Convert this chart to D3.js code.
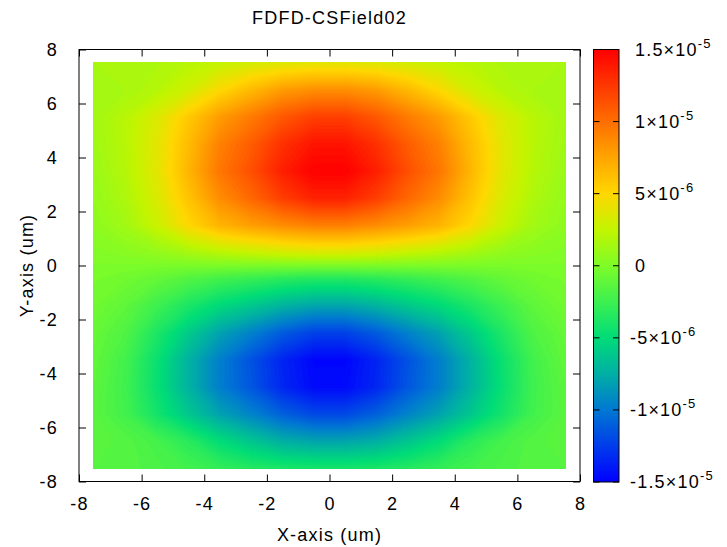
<!DOCTYPE html>
<html lang="en">
<head>
<meta charset="utf-8">
<style>
  body { margin: 0; background: #fff; }
  svg text { font-family: "Liberation Sans", Arial, sans-serif; fill: #000; letter-spacing: 1.2px; }
  .tick line { stroke: #000; }
</style>
</head>
<body>
<svg width="727" height="547"></svg>
<script src="https://d3js.org/d3.v7.min.js"></script>
<script>
// grid nodes (um) and field values in units of 1e-6, rows from top (y=7.5) to bottom (y=-7.5)
var valueUnit = 1e-6;
var xNodes = [-7.5, -6.5, -5.5, -4.5, -3.5, -2.5, -1.5, -0.5, 0.5, 1.5, 2.5, 3.5, 4.5, 5.5, 6.5, 7.5];
var yNodes = [7.5, 6.5, 5.5, 4.5, 3.5, 2.5, 1.5, 0.5, -0.5, -1.5, -2.5, -3.5, -4.5, -5.5, -6.5, -7.5];
var field = [
  [1.5, 1.6, 1.7, 2.1, 2.6, 3.2, 3.6, 3.8, 3.8, 3.6, 3.2, 2.6, 2.1, 1.7, 1.6, 1.5],
  [1.3, 1.5, 2.0, 3.1, 4.9, 6.5, 7.9, 8.5, 8.5, 7.9, 6.5, 4.9, 3.1, 2.0, 1.5, 1.3],
  [1.3, 2.1, 3.5, 5.7, 7.9, 9.4, 11.0, 12.1, 12.1, 11.0, 9.4, 7.9, 5.7, 3.5, 2.1, 1.3],
  [1.2, 2.1, 3.8, 6.4, 9.1, 10.8, 12.8, 14.1, 14.1, 12.8, 10.8, 9.1, 6.4, 3.8, 2.1, 1.2],
  [1.0, 2.0, 3.8, 6.7, 9.6, 11.4, 13.6, 15.0, 15.0, 13.6, 11.4, 9.6, 6.7, 3.8, 2.0, 1.0],
  [0.8, 1.7, 3.4, 6.0, 8.6, 10.3, 12.2, 13.5, 13.5, 12.2, 10.3, 8.6, 6.0, 3.4, 1.7, 0.8],
  [0.6, 1.3, 2.8, 5.0, 6.8, 7.8, 8.6, 9.2, 9.2, 8.6, 7.8, 6.8, 5.0, 2.8, 1.3, 0.6],
  [0.15, 0.4, 0.8, 1.5, 2.2, 2.7, 3.2, 3.5, 3.5, 3.2, 2.7, 2.2, 1.5, 0.8, 0.4, 0.15],
  [-0.2, -0.5, -1.0, -1.7, -2.3, -2.8, -3.3, -3.6, -3.6, -3.3, -2.8, -2.3, -1.7, -1.0, -0.5, -0.2],
  [-0.5, -1.2, -2.5, -3.9, -5.2, -6.2, -7.3, -8.0, -8.0, -7.3, -6.2, -5.2, -3.9, -2.5, -1.2, -0.5],
  [-0.9, -1.8, -3.8, -6.0, -8.1, -9.6, -11.2, -12.3, -12.3, -11.2, -9.6, -8.1, -6.0, -3.8, -1.8, -0.9],
  [-1.1, -2.3, -4.6, -7.3, -9.7, -11.6, -13.5, -14.8, -14.8, -13.5, -11.6, -9.7, -7.3, -4.6, -2.3, -1.1],
  [-1.3, -2.4, -4.7, -7.3, -9.7, -11.4, -13.4, -14.6, -14.6, -13.4, -11.4, -9.7, -7.3, -4.7, -2.4, -1.3],
  [-1.4, -2.3, -4.2, -6.2, -8.1, -9.5, -11.0, -12.0, -12.0, -11.0, -9.5, -8.1, -6.2, -4.2, -2.3, -1.4],
  [-1.35, -1.6, -2.2, -3.3, -5.0, -6.3, -7.5, -8.0, -8.0, -7.5, -6.3, -5.0, -3.3, -2.2, -1.6, -1.35],
  [-1.5, -1.6, -1.9, -2.3, -2.9, -3.5, -3.9, -4.1, -4.1, -3.9, -3.5, -2.9, -2.3, -1.9, -1.6, -1.5]
];
var xTicks = [-8, -6, -4, -2, 0, 2, 4, 6, 8];
var yTicks = [-8, -6, -4, -2, 0, 2, 4, 6, 8];
var cbTicks = [-1.5e-5, -1e-5, -5e-6, 0, 5e-6, 1e-5, 1.5e-5];
var cbMantissa = ["-1.5", "-1", "-5", "0", "5", "1", "1.5"];
var cbExponent = ["-5", "-5", "-6", "", "-6", "-5", "-5"];
var paletteValues = [-15, -12.5, -10, -7.5, -5, -2.5, 0, 2.5, 5, 7.5, 10, 12.5, 15];
var paletteColors = ["#0000ff", "#003ceb", "#0078d2", "#00afa5", "#00dc78", "#3cf050", "#7dfc28",
                     "#c3f500", "#ffd700", "#ffa500", "#ff6e00", "#ff3700", "#ff0000"];

var svg = d3.select("svg");
var plotLeft = 79, plotRight = 580, plotTop = 49.5, plotBottom = 481.5;
var fontSize = "18px";

var x = d3.scaleLinear().domain([-8, 8]).range([plotLeft, plotRight]);
var y = d3.scaleLinear().domain([-8, 8]).range([plotBottom, plotTop]);
var color = d3.scaleLinear()
  .domain(paletteValues.map(function(v) { return v * valueUnit; }))
  .range(paletteColors)
  .interpolate(d3.interpolateRgb);

// heat map as stacked filled contours of the grid
var nx = xNodes.length, ny = yNodes.length;
var values = [];
field.forEach(function(row) { row.forEach(function(v) { values.push(v); }); });
var step = 0.25;
var thresholds = d3.range(-16, 15.6, step);
var contours = d3.contours().size([nx, ny]).thresholds(thresholds)(values);

// grid coordinate c -> node xNodes[0] at c = 0.5
var projection = d3.geoTransform({
  point: function(cx, cy) {
    this.stream.point(x(xNodes[0] - 0.5 + cx), y(yNodes[0] + 0.5 - cy));
  }
});
var path = d3.geoPath(projection);

var heatExtentX = [-7.55, 7.55], heatExtentY = [-7.53, 7.53];
svg.append("clipPath").attr("id", "heatClip")
  .append("rect")
  .attr("x", x(heatExtentX[0]))
  .attr("y", y(heatExtentY[1]))
  .attr("width", x(heatExtentX[1]) - x(heatExtentX[0]))
  .attr("height", y(heatExtentY[0]) - y(heatExtentY[1]));

svg.append("g").attr("clip-path", "url(#heatClip)")
  .selectAll("path")
  .data(contours)
  .enter().append("path")
  .attr("d", path)
  .attr("fill", function(d) { return color((d.value + step / 2) * valueUnit); })
  .attr("stroke", function(d) { return color((d.value + step / 2) * valueUnit); })
  .attr("stroke-width", 0.3);

// axes with inward ticks on all sides
var tickLen = 7;
var plain = function(d) { return String(d); };
svg.append("g").attr("transform", "translate(0," + plotBottom + ")")
  .call(d3.axisBottom(x).tickValues(xTicks).tickSize(-tickLen).tickPadding(16).tickFormat(plain));
svg.append("g").attr("transform", "translate(0," + plotTop + ")")
  .call(d3.axisTop(x).tickValues(xTicks).tickSize(-tickLen).tickFormat(""));
svg.append("g").attr("transform", "translate(" + plotLeft + ",0)")
  .call(d3.axisLeft(y).tickValues(yTicks).tickSize(-tickLen).tickPadding(21).tickFormat(plain));
svg.append("g").attr("transform", "translate(" + plotRight + ",0)")
  .call(d3.axisRight(y).tickValues(yTicks).tickSize(-tickLen).tickFormat(""));
svg.selectAll(".domain").remove();
svg.selectAll(".tick text").attr("font-size", fontSize).attr("font-family", null);

svg.append("rect")
  .attr("x", plotLeft).attr("y", plotTop)
  .attr("width", plotRight - plotLeft).attr("height", plotBottom - plotTop)
  .attr("fill", "none").attr("stroke", "#000").attr("stroke-width", 1);

// titles
svg.append("text").attr("x", x(0)).attr("y", 24).attr("text-anchor", "middle")
  .attr("font-size", fontSize).text("FDFD-CSField02");
svg.append("text").attr("x", x(0)).attr("y", 541).attr("text-anchor", "middle")
  .attr("font-size", fontSize).text("X-axis (um)");
svg.append("text").attr("transform", "translate(33," + y(0) + ") rotate(-90)")
  .attr("text-anchor", "middle").attr("font-size", fontSize).text("Y-axis (um)");

// colour box
var cbLeft = 593.5, cbRight = 619;
var cb = d3.scaleLinear().domain([-1.5e-5, 1.5e-5]).range([482, 49.5]);
var grad = svg.append("defs").append("linearGradient").attr("id", "cbGrad")
  .attr("x1", 0).attr("y1", 1).attr("x2", 0).attr("y2", 0);
grad.selectAll("stop")
  .data(paletteValues)
  .enter().append("stop")
  .attr("offset", function(v) { return (v - paletteValues[0]) / (paletteValues[paletteValues.length - 1] - paletteValues[0]); })
  .attr("stop-color", function(v) { return color(v * valueUnit); });

svg.append("rect")
  .attr("x", cbLeft).attr("y", cb(1.5e-5))
  .attr("width", cbRight - cbLeft).attr("height", cb(-1.5e-5) - cb(1.5e-5))
  .attr("fill", "url(#cbGrad)").attr("stroke", "#000").attr("stroke-width", 1);

var cbTick = svg.append("g").selectAll("g").data(cbTicks).enter().append("g");
cbTick.append("line")
  .attr("x1", cbLeft).attr("x2", cbLeft + 6)
  .attr("y1", function(d) { return cb(d); }).attr("y2", function(d) { return cb(d); })
  .attr("stroke", "#000");
cbTick.append("line")
  .attr("x1", cbRight - 6).attr("x2", cbRight)
  .attr("y1", function(d) { return cb(d); }).attr("y2", function(d) { return cb(d); })
  .attr("stroke", "#000");

var cbText = cbTick.append("text")
  .attr("x", function(d) { return d < 0 ? 630 : 635; })
  .attr("y", function(d) { return cb(d) + 6; })
  .attr("font-size", fontSize);
cbText.append("tspan").text(function(d, i) { return cbMantissa[i] + (cbExponent[i] ? "\u00d710" : ""); });
cbText.append("tspan")
  .attr("dy", -8).attr("font-size", "13px")
  .text(function(d, i) { return cbExponent[i]; });
</script>
</body>
</html>
